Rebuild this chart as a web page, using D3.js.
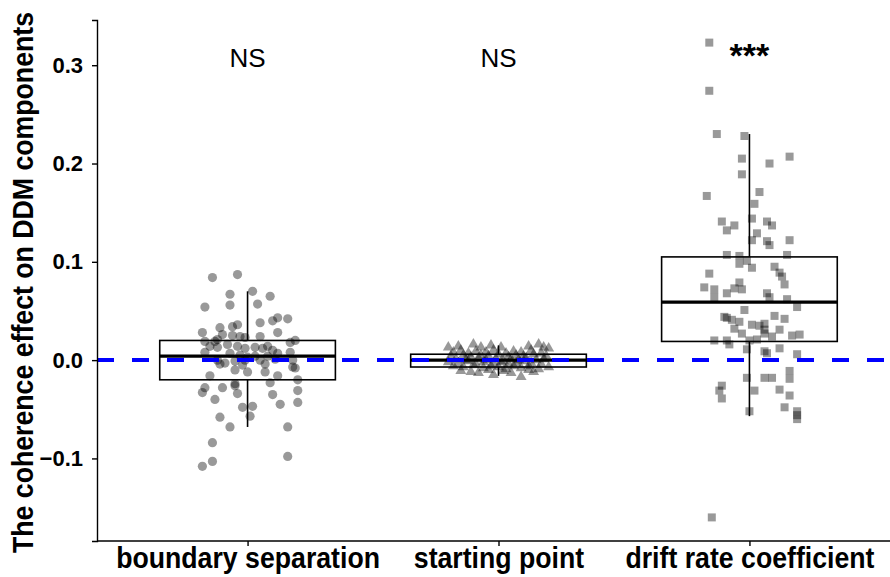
<!DOCTYPE html>
<html>
<head>
<meta charset="utf-8">
<script src="https://cdn.jsdelivr.net/npm/d3@7"></script>
<style>
  body { margin: 0; background: #fff; }
  svg { display: block; font-family: "Liberation Sans", Arial, sans-serif; }
</style>
</head>
<body>
<div id="chart"></div>
<script>
const categories = ["boundary separation", "starting point", "drift rate coefficient"];
const sigLabels = ["NS", "NS", "***"];
const yTicks = [-0.1, 0.0, 0.1, 0.2, 0.3];

// box statistics
const boxLower = [-0.068, -0.016, -0.057];
const boxQ1 = [-0.020, -0.007, 0.019];
const boxMedian = [0.004, 0.000, 0.059];
const boxQ3 = [0.020, 0.006, 0.105];
const boxUpper = [0.070, 0.015, 0.230];

// boundary separation: [jitter, value]
const bsPoints = [
  [-0.14,0.084],[-0.04,0.087],[0.02,0.070],[-0.07,0.067],[0.09,0.065],[-0.07,0.056],[0.04,0.057],
  [-0.17,0.054],[0.12,0.043],[0.16,0.042],[0.05,0.038],[0.10,0.040],[-0.11,0.033],[-0.06,0.034],
  [-0.04,0.036],[-0.18,0.028],[-0.10,0.026],[-0.06,0.025],[-0.03,0.024],[-0.01,0.023],[0.05,0.024],
  [0.12,0.028],[-0.17,0.019],[-0.13,0.019],[-0.12,0.021],[0.17,0.018],[0.19,0.020],[-0.15,0.014],
  [-0.12,0.013],[-0.08,0.016],[-0.04,0.014],[-0.01,0.012],[0.03,0.013],[0.06,0.012],[0.08,0.014],
  [0.10,0.010],[0.12,0.007],[0.17,0.008],[-0.17,0.008],[-0.07,0.007],[-0.03,0.005],[0.00,0.003],
  [0.03,0.004],[0.08,0.004],[-0.12,0.000],[-0.09,-0.003],[-0.05,-0.001],[-0.01,0.000],[0.05,0.000],
  [0.11,0.001],[0.18,0.000],[-0.11,-0.004],[-0.02,-0.005],[0.07,-0.004],[0.18,-0.007],[0.19,-0.008],
  [-0.05,-0.010],[0.00,-0.012],[0.07,-0.012],[0.12,-0.016],[-0.15,-0.016],[0.20,-0.020],[0.09,-0.023],
  [-0.05,-0.024],[-0.05,-0.026],[-0.17,-0.028],[-0.18,-0.033],[-0.10,-0.028],[-0.04,-0.034],[0.10,-0.035],
  [0.20,-0.031],[-0.13,-0.040],[0.02,-0.047],[-0.02,-0.048],[0.13,-0.045],[0.20,-0.043],[0.01,-0.057],
  [-0.11,-0.058],[-0.07,-0.068],[0.16,-0.068],[-0.14,-0.084],[0.16,-0.098],[-0.18,-0.108],[-0.14,-0.103]
];

// starting point: [jitter, value]
const spPoints = [
  [-0.20,0.013],[-0.16,0.014],[-0.10,0.016],[-0.07,0.013],[-0.03,0.015],[0.01,0.013],[0.12,0.014],
  [0.16,0.016],[0.18,0.013],[0.20,0.012],[-0.18,0.008],[-0.15,0.010],[-0.12,0.007],[-0.09,0.009],
  [-0.05,0.008],[-0.02,0.010],[0.03,0.007],[0.06,0.009],[0.09,0.008],[0.13,0.010],[0.17,0.007],
  [-0.19,0.004],[-0.14,0.005],[-0.11,0.003],[-0.07,0.005],[-0.04,0.004],[0.00,0.006],[0.04,0.003],
  [0.07,0.005],[0.10,0.004],[0.14,0.006],[0.19,0.004],[-0.17,0.001],[-0.13,0.000],[-0.08,0.002],
  [-0.05,0.000],[-0.01,0.001],[0.02,-0.001],[0.05,0.001],[0.08,0.000],[0.11,0.002],[0.15,0.000],
  [0.18,0.001],[-0.20,-0.002],[-0.16,-0.003],[-0.12,-0.001],[-0.09,-0.004],[-0.06,-0.002],[-0.02,-0.003],
  [0.01,-0.002],[0.04,-0.004],[0.07,-0.003],[0.10,-0.001],[0.13,-0.003],[0.17,-0.004],[-0.18,-0.006],
  [-0.14,-0.007],[-0.10,-0.005],[-0.06,-0.008],[-0.03,-0.006],[0.00,-0.007],[0.03,-0.009],[0.06,-0.006],
  [0.09,-0.008],[0.12,-0.006],[0.16,-0.009],[0.20,-0.007],[-0.15,-0.011],[-0.11,-0.012],[-0.04,-0.010],
  [0.02,-0.011],[0.05,-0.013],[0.14,-0.012],[-0.08,-0.013],[-0.02,-0.015],[0.09,-0.017],[0.12,-0.010]
];

// drift rate coefficient: [jitter, value]
const drPoints = [
  [-0.16,0.323],[-0.16,0.274],[-0.13,0.230],[-0.02,0.228],[-0.03,0.205],[0.16,0.207],[0.08,0.200],
  [-0.03,0.189],[-0.17,0.167],[0.04,0.171],[0.02,0.159],[0.01,0.144],[-0.11,0.141],[-0.06,0.137],
  [0.07,0.141],[0.09,0.137],[-0.09,0.132],[0.03,0.129],[0.01,0.122],[0.07,0.121],[0.08,0.117],
  [0.16,0.122],[-0.09,0.107],[-0.04,0.106],[-0.04,0.098],[-0.01,0.101],[0.15,0.107],[0.01,0.094],
  [-0.16,0.088],[0.10,0.095],[0.12,0.089],[0.13,0.085],[0.14,0.077],[-0.04,0.079],[-0.18,0.074],
  [-0.14,0.072],[-0.09,0.068],[-0.06,0.073],[-0.03,0.072],[0.07,0.068],[0.08,0.064],[-0.14,0.064],
  [0.15,0.062],[0.19,0.054],[-0.02,0.051],[-0.10,0.044],[-0.09,0.043],[-0.07,0.041],[-0.04,0.039],
  [0.10,0.045],[0.14,0.042],[0.01,0.036],[0.04,0.035],[0.06,0.037],[0.06,0.031],[0.12,0.031],
  [-0.06,0.032],[-0.03,0.027],[0.06,0.027],[0.09,0.024],[0.17,0.025],[0.20,0.026],[-0.14,0.020],
  [-0.09,0.020],[-0.08,0.016],[0.03,0.021],[0.00,0.020],[-0.01,0.011],[0.06,0.009],[0.07,0.007],
  [0.12,0.012],[0.19,0.006],[0.16,-0.011],[-0.01,-0.018],[0.06,-0.018],[0.09,-0.018],[0.16,-0.019],
  [-0.11,-0.026],[-0.12,-0.031],[0.02,-0.031],[0.12,-0.030],[-0.11,-0.039],[0.16,-0.036],[0.00,-0.052],
  [0.14,-0.048],[0.19,-0.052],[0.19,-0.056],[0.19,-0.060],[-0.15,-0.160]
];

const width = 890;
const height = 577;

const svg = d3.select("#chart")
  .append("svg")
  .attr("width", width)
  .attr("height", height);

const x = d3.scalePoint()
  .domain(categories)
  .range([97, 900])
  .padding(0.6);

const y = d3.scaleLinear()
  .domain([-0.184, 0.346])
  .range([541, 20]);

const step = x.step();
const boxW = step * 0.7;
const squeeze = 0.92; // original font is a bit narrower than Liberation

// boxes
categories.forEach((c, i) => {
  const cx = x(c);
  const g = svg.append("g");
  g.append("line")
    .attr("x1", cx).attr("x2", cx)
    .attr("y1", y(boxUpper[i])).attr("y2", y(boxQ3[i]))
    .attr("stroke", "#000").attr("stroke-width", 1.6);
  g.append("line")
    .attr("x1", cx).attr("x2", cx)
    .attr("y1", y(boxQ1[i])).attr("y2", y(boxLower[i]))
    .attr("stroke", "#000").attr("stroke-width", 1.6);
  g.append("rect")
    .attr("x", cx - boxW / 2)
    .attr("y", y(boxQ3[i]))
    .attr("width", boxW)
    .attr("height", y(boxQ1[i]) - y(boxQ3[i]))
    .attr("fill", "#fff")
    .attr("stroke", "#000")
    .attr("stroke-width", 1.6);
  g.append("line")
    .attr("x1", cx - boxW / 2).attr("x2", cx + boxW / 2)
    .attr("y1", y(boxMedian[i])).attr("y2", y(boxMedian[i]))
    .attr("stroke", "#000").attr("stroke-width", 3.2);
});

// jittered points
const px = (c, d) => x(c) + d[0] * step;

svg.append("g").selectAll("circle")
  .data(bsPoints)
  .enter()
  .append("circle")
  .attr("cx", d => px(categories[0], d))
  .attr("cy", d => y(d[1]))
  .attr("r", 4.6)
  .attr("fill", "#000")
  .attr("fill-opacity", 0.4);

const tri = d3.symbol().type(d3.symbolTriangle).size(52);
svg.append("g").selectAll("path")
  .data(spPoints)
  .enter()
  .append("path")
  .attr("d", tri)
  .attr("transform", d => `translate(${px(categories[1], d)},${y(d[1])})`)
  .attr("fill", "#000")
  .attr("fill-opacity", 0.4);

svg.append("g").selectAll("rect")
  .data(drPoints)
  .enter()
  .append("rect")
  .attr("x", d => px(categories[2], d) - 4)
  .attr("y", d => y(d[1]) - 4)
  .attr("width", 8)
  .attr("height", 8)
  .attr("fill", "#000")
  .attr("fill-opacity", 0.4);

// zero reference line
svg.append("line")
  .attr("x1", 97).attr("x2", width)
  .attr("y1", y(0)).attr("y2", y(0))
  .attr("stroke", "#0000ff")
  .attr("stroke-width", 4)
  .attr("stroke-dasharray", "17,18");

// axes
const yAxis = svg.append("g")
  .attr("transform", "translate(97,0)")
  .call(d3.axisLeft(y).tickValues(yTicks).tickFormat(d3.format(".1f")).tickSizeOuter(0).tickSize(5));
yAxis.select(".domain").attr("stroke-width", 1.4);
yAxis.selectAll(".tick line").attr("stroke-width", 1.4);
yAxis.selectAll(".tick text")
  .attr("x", -14)
  .style("font-size", "22px")
  .style("font-weight", "bold")
  .style("fill", "#000")
  .attr("font-family", null);

const xAxis = svg.append("g")
  .attr("transform", "translate(0,541)")
  .call(d3.axisBottom(x).tickSizeOuter(0).tickSize(5));
xAxis.select(".domain").attr("d", `M97,0H${width}`).attr("stroke-width", 1.4);
xAxis.selectAll(".tick line").attr("stroke-width", 1.4);
xAxis.selectAll(".tick text")
  .attr("y", 6)
  .attr("transform", `scale(${squeeze},1)`)
  .style("font-size", "29px")
  .style("font-weight", "bold")
  .style("fill", "#000")
  .attr("font-family", null);

// y title
svg.append("text")
  .attr("transform", `translate(33,${(y(0.346) + y(-0.184)) / 2 + 2}) rotate(-90) scale(${squeeze},1)`)
  .attr("text-anchor", "middle")
  .style("font-size", "29px")
  .style("font-weight", "bold")
  .text("The coherence effect on DDM components");

// significance labels
svg.append("g").selectAll("text")
  .data(sigLabels)
  .enter()
  .append("text")
  .attr("x", (d, i) => x(categories[i]))
  .attr("y", 67)
  .attr("text-anchor", "middle")
  .style("font-size", d => d === "***" ? "34px" : "26px")
  .style("font-weight", d => d === "***" ? "bold" : "normal")
  .text(d => d);
</script>
</body>
</html>
